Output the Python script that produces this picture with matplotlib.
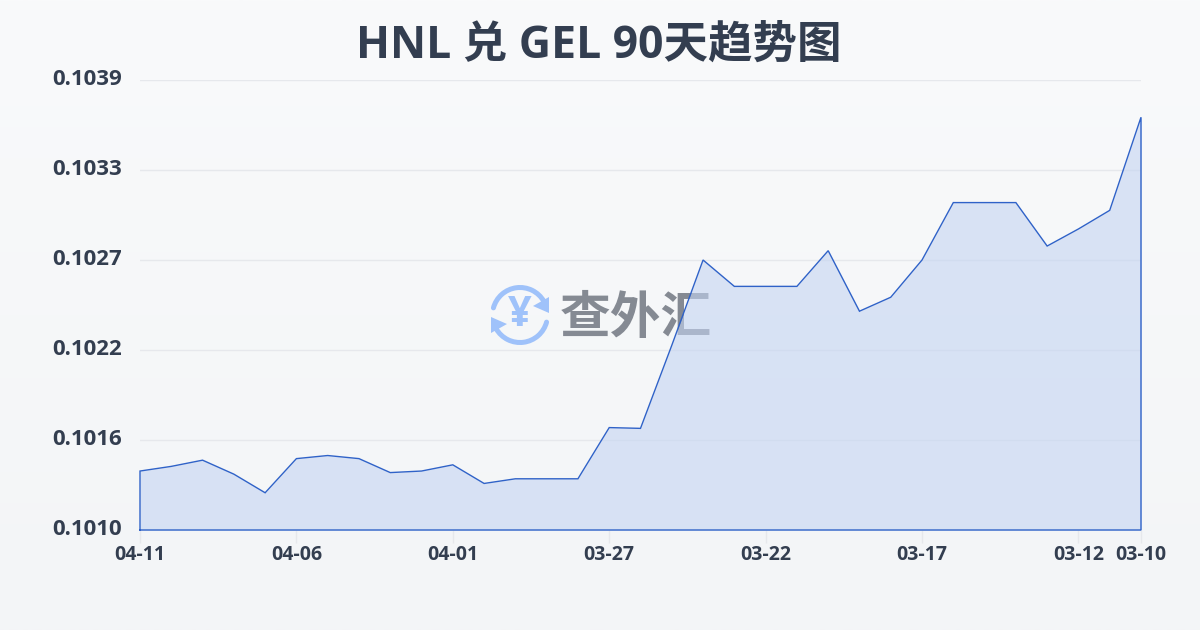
import numpy as np
import matplotlib
matplotlib.use('Agg')
import matplotlib.pyplot as plt
from matplotlib.patches import Arc, Polygon
from matplotlib.transforms import ScaledTranslation

plt.rcParams['font.family'] = ['Open Sans', 'Noto Sans CJK SC', 'DejaVu Sans']

title = 'HNL 兑 GEL 90天趋势图'
dates = ['04-11', '04-10', '04-09', '04-08', '04-07', '04-06', '04-05', '04-04', '04-03', '04-02', '04-01',
         '03-31', '03-30', '03-29', '03-28', '03-27', '03-26', '03-25', '03-24', '03-23', '03-22', '03-21',
         '03-20', '03-19', '03-18', '03-17', '03-16', '03-15', '03-14', '03-13', '03-12', '03-11', '03-10']
rates = [0.10138, 0.10141, 0.10145, 0.10136, 0.10124, 0.10146, 0.10148, 0.10146, 0.10137, 0.10138, 0.10142,
         0.10130, 0.10133, 0.10133, 0.10133, 0.10166, 0.101655, 0.10219, 0.10274, 0.10257, 0.10257, 0.10257,
         0.10280, 0.10241, 0.10250, 0.10274, 0.10311, 0.10311, 0.10311, 0.10283, 0.10294, 0.10306, 0.10366]
shown_dates = ['04-11', '04-06', '04-01', '03-27', '03-22', '03-17', '03-12', '03-10']
y_ticks = [0.1010, 0.1016, 0.1022, 0.1027, 0.1033, 0.1039]

TEXT = '#333e50'
LINE = '#2f62c8'
GRID = '#e6e8ec'
ICON = '#9fc2fa'

fig = plt.figure(figsize=(12, 6.3), dpi=100)

# фон - вертикальный градиент
bg = fig.add_axes([0, 0, 1, 1], zorder=0)
bg.imshow(np.linspace(0, 1, 256).reshape(-1, 1), aspect='auto', extent=(0, 1, 0, 1),
          cmap=matplotlib.colors.LinearSegmentedColormap.from_list('bg', ['#f9fafb', '#f3f5f7']))
bg.axis('off')

ax = fig.add_axes([140 / 1200, 1 - 530 / 630, 1001 / 1200, 450 / 630], zorder=2)
ax.patch.set_alpha(0)
x = np.arange(len(rates))
ax.set_xlim(0, len(rates) - 1)
ax.set_ylim(y_ticks[0], 0.1039)

ax.set_yticks(np.linspace(y_ticks[0], 0.1039, len(y_ticks)))
ax.set_yticklabels(['%.4f' % v for v in y_ticks], fontsize=16, fontweight='bold', color=TEXT)
ax.set_xticks([dates.index(d) for d in shown_dates])
ax.set_xticklabels(shown_dates, fontsize=14, fontweight='bold', color=TEXT)
ax.tick_params(axis='y', length=0, pad=13)
ax.tick_params(axis='x', length=9, width=1, color=GRID, pad=2)
# подписи оси y чуть выше линий сетки, как в оригинале
up = ScaledTranslation(0, 2 / 72, fig.dpi_scale_trans)
for lab in ax.get_yticklabels():
    lab.set_transform(lab.get_transform() + up)
ax.grid(axis='y', color=GRID, linewidth=1)
ax.set_axisbelow(True)
for s in ax.spines.values():
    s.set_visible(False)

# заливка и контур (замкнут вниз на ось)
ax.fill_between(x, rates, y_ticks[0], color='#c4d4f2', alpha=0.6, linewidth=0, zorder=3)
ax.plot(np.r_[x[0], x, x[-1], x[0]], np.r_[y_ticks[0], rates, y_ticks[0], y_ticks[0]],
        color=LINE, linewidth=1, solid_joinstyle='miter', clip_on=False, zorder=4)

# водяной знак в пикселях
wm = fig.add_axes([0, 0, 1, 1], zorder=1)
wm.set_xlim(0, 1200)
wm.set_ylim(630, 0)
wm.axis('off')
wm.add_patch(Arc((520, 315), 55, 55, theta1=195, theta2=330, color=ICON, linewidth=3.6, capstyle='round'))
wm.add_patch(Arc((520, 315), 55, 55, theta1=15, theta2=150, color=ICON, linewidth=3.6, capstyle='round'))
ah_right = [(549, 297), (549, 313), (533, 306)]
ah_left = [(491, 333), (491, 317), (507, 324)]
wm.add_patch(Polygon(ah_right, closed=True, color=ICON, linewidth=0))
wm.add_patch(Polygon(ah_left, closed=True, color=ICON, linewidth=0))
wm.text(520, 315, '¥', ha='center', va='center', fontsize=30, fontweight='bold', color=ICON)
wm.text(635.5, 319, '查外汇', ha='center', va='center', fontsize=36.5, fontweight='bold', color='#858a93',
        family=['Noto Sans CJK SC', 'DejaVu Sans'])

fig.text(599 / 1200, 1 - 46 / 630, title, ha='center', va='center', fontsize=32, fontweight='bold', color=TEXT)

fig.savefig('out.png', dpi=100)
